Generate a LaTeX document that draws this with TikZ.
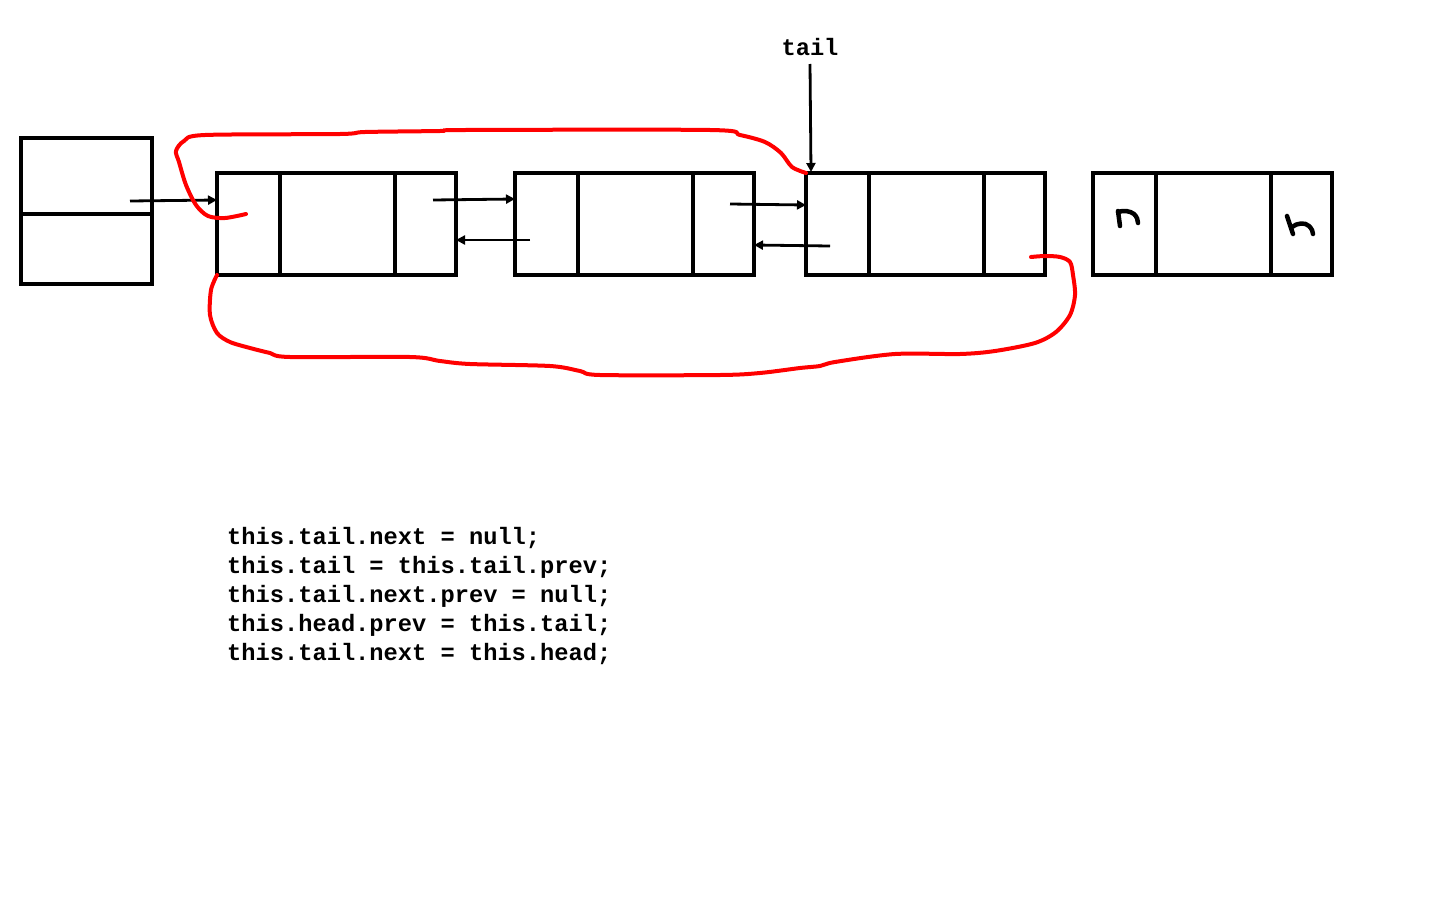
\documentclass[tikz,border=0pt]{standalone}
\usepackage{fontspec}
\setmonofont{Liberation Mono}
\usetikzlibrary{arrows.meta}
\tikzset{
  box/.style={draw=black, line width=3.3bp},
  ptr/.style={draw=black, line width=2.8bp, -{Triangle[length=9bp,width=9bp]}},
  redline/.style={draw=red, line width=4bp, line cap=round, line join=round},
  glyph/.style={draw=black, line width=4.5bp, line cap=round, line join=round},
  code/.style={font=\ttfamily\bfseries\fontsize{23.8}{29}\selectfont, inner sep=0pt}
}
\begin{document}
\begin{tikzpicture}[x=1bp,y=-1bp]
\useasboundingbox (0,0) rectangle (1440,900);
% left box
\draw[box] (21,138) rectangle (152,284);
\draw[box] (21,214) -- (152,214);
% nodes
\foreach \x/\n in {217/a,515/b,806/c,1093/d}{
  \draw[box] (\x,173) rectangle ++(239,102);
  \draw[box] ({\x+63},173) -- ({\x+63},275);
  \draw[box] ({\x+178},173) -- ({\x+178},275);
}
\coordinate (h0) at (130,201); \coordinate (h1) at (217,200);
\coordinate (a0) at (433,200); \coordinate (a1) at (515,199);
\coordinate (b0) at (530,240); \coordinate (b1) at (456,240);
\coordinate (c0) at (730,204); \coordinate (c1) at (806,205);
\coordinate (d0) at (830,246); \coordinate (d1) at (754,245);
\coordinate (t0) at (810,64);  \coordinate (t1) at (811,172);
\draw[ptr] (h0) -- (h1);
\draw[ptr] (a0) -- (a1);
\draw[ptr] (b0) -- (b1);
\draw[ptr] (c0) -- (c1);
\draw[ptr] (d0) -- (d1);
\draw[ptr] (t0) -- (t1);
\node[code, anchor=base] (tail) at (810,55) {tail};
% red curves
\draw[redline] plot[smooth, tension=0.5] coordinates {
 (246,214) (225,218) (208,216) (196,205) (186,185) (179,162) (176,151) (184,141) (205,135)
 (340,134) (365,132) (440,131) (465,130) (710,130) (740,135) (765,142) (781,153) (792,167) (806,173)};
\draw[redline] plot[smooth, tension=0.5] coordinates {
 (217,275) (211,290) (210,315) (217,333) (230,342) (250,348) (270,353) (290,357)
 (410,357) (440,361) (470,364) (550,366) (580,371) (600,375) (720,375) (760,373)
 (800,368) (820,366) (835,362) (895,354) (960,354) (995,351) (1035,343) (1056,332)
 (1070,315) (1075,295) (1073,275) (1070,262) (1060,257) (1045,256) (1031,257)};
% handwritten n glyphs
\draw[glyph] (1118,211) -- (1120,226);
\draw[glyph] (1118,212) .. controls (1124,210) and (1130,211) .. (1134,214) .. controls (1137,217) and (1138,220) .. (1138,223);
\draw[glyph] (1287,216) -- (1293,234);
\draw[glyph] (1292,227) .. controls (1297,223) and (1305,222) .. (1309,226) .. controls (1312,229) and (1313,232) .. (1313,234);
% code
\node[code, anchor=base west, align=left] (codeblock) at (227,660) {this.tail.next = null;\\
this.tail = this.tail.prev;\\
this.tail.next.prev = null;\\
this.head.prev = this.tail;\\
this.tail.next = this.head;};
\end{tikzpicture}
\end{document}
